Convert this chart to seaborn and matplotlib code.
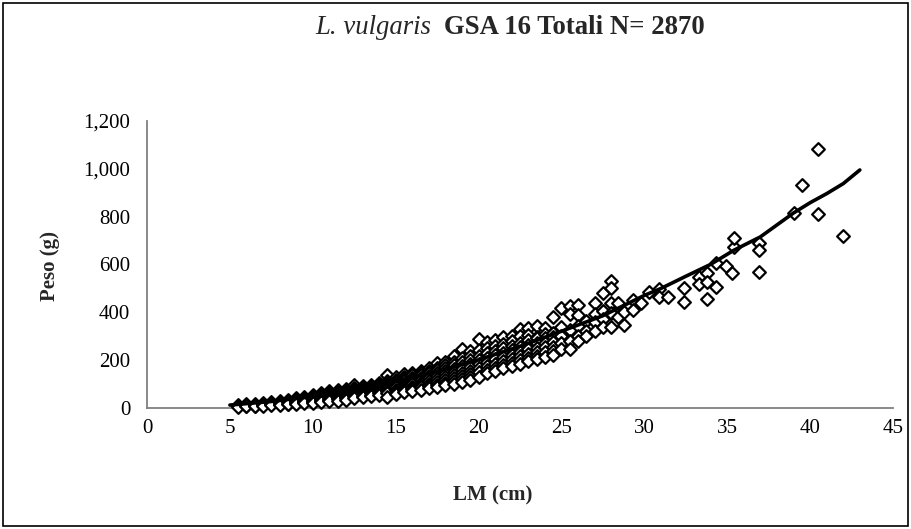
import matplotlib
matplotlib.use("Agg")
import matplotlib.pyplot as plt
import seaborn as sns
import pandas as pd
from matplotlib.patches import Rectangle
from matplotlib.ticker import FuncFormatter

# ---------------- data ----------------
title_italic = "L. vulgaris"
title_bold = "GSA 16 Totali N= 2870"
x_label = "LM (cm)"
y_label = "Peso (g)"
x_ticks = [0, 5, 10, 15, 20, 25, 30, 35, 40, 45]
y_ticks = [0, 200, 400, 600, 800, 1000, 1200]

# observed points: length class (cm) -> weights (g)
obs_lm = [5.5, 6.0, 6.5, 7.0, 7.5, 8.0, 8.5, 9.0, 9.5, 10.0, 10.5, 11.0, 11.5,
          12.0, 12.5, 13.0, 13.5, 14.0, 14.5, 15.0, 15.5, 16.0, 16.5, 17.0,
          17.5, 18.0, 18.5, 19.0, 19.5, 20.0, 20.5, 21.0, 21.5, 22.0, 22.5,
          23.0, 23.5, 24.0, 24.5, 25.0, 25.5, 26.0, 26.5, 27.0, 27.5, 28.0]
obs_weights = [
    [10, 7, 5], [14, 11, 8, 6], [14, 12, 9, 7], [18, 15, 11, 9],
    [22, 19, 14, 11], [28, 24, 19, 15, 12], [32, 27, 22, 17, 14],
    [39, 34, 29, 24, 20, 17], [46, 40, 35, 30, 26, 22, 19],
    [52, 46, 41, 36, 31, 27, 23, 20], [62, 55, 49, 43, 38, 33, 28, 24],
    [68, 61, 55, 49, 43, 37, 32, 27], [74, 67, 60, 54, 48, 42, 36, 30],
    [78, 72, 66, 60, 53, 46, 40, 34], [95, 84, 76, 68, 61, 54, 47, 40],
    [92, 86, 79, 72, 65, 58, 51, 44], [97, 92, 85, 78, 70, 62, 55, 48],
    [103, 98, 91, 84, 76, 68, 60, 52],
    [135, 112, 104, 96, 88, 80, 71, 62, 46],
    [127, 118, 110, 102, 94, 85, 76, 67, 58],
    [142, 127, 119, 110, 101, 92, 82, 72, 64],
    [145, 135, 126, 117, 108, 98, 88, 78, 70],
    [155, 145, 135, 125, 115, 105, 95, 85, 76],
    [165, 154, 144, 134, 123, 112, 101, 91, 82],
    [186, 168, 156, 144, 132, 120, 108, 97, 88],
    [192, 178, 165, 153, 141, 128, 116, 104, 94],
    [215, 192, 178, 164, 150, 137, 124, 111, 100],
    [244, 206, 190, 175, 160, 146, 132, 119, 108],
    [237, 215, 199, 184, 169, 154, 140, 127, 116],
    [286, 240, 215, 198, 182, 166, 150, 130],
    [276, 250, 228, 210, 192, 175, 158, 145],
    [283, 258, 238, 220, 202, 185, 168, 155],
    [294, 268, 248, 230, 212, 195, 178, 165],
    [300, 278, 258, 240, 222, 205, 188, 175],
    [328, 300, 272, 252, 234, 216, 198, 185],
    [335, 305, 282, 262, 244, 226, 208, 195],
    [342, 297, 290, 270, 250, 232, 215, 205],
    [332, 310, 290, 270, 255, 235, 213],
    [378, 314, 295, 275, 255, 236, 220],
    [416, 336, 300, 270, 244], [425, 392, 325, 280, 244],
    [429, 387, 340, 301, 280], [362, 322, 300], [439, 392, 360, 322],
    [478, 405, 370, 336], [531, 503, 439, 395, 339]]

# sparse large individuals
big_lm = [28.4, 28.4, 28.8, 28.8, 29.3, 29.3, 29.8, 30.3, 30.9, 30.9, 31.4,
          32.4, 32.4, 33.3, 33.3, 33.8, 33.8, 33.8, 34.3, 34.3, 34.9, 35.3,
          35.4, 35.4, 36.9, 36.9, 36.9, 39.0, 39.5, 40.5, 40.5, 42.0]
big_peso = [439, 378, 401, 346, 450, 408, 439, 483, 498, 463, 464,
            499, 441, 548, 516, 562, 525, 457, 506, 606, 592, 562,
            671, 711, 690, 659, 569, 815, 932, 1082, 812, 719]

# fitted length-weight curve
fit_lm = [5, 7.5, 10, 12.5, 15, 17.5, 20, 22.5, 25, 27.5, 30, 31, 32.5,
          34, 35.4, 37, 39, 40, 41, 42, 43]
fit_peso = [11, 26, 47, 75, 110, 152, 200, 257, 320, 385, 470, 499, 550,
            600, 659, 715, 815, 858, 896, 938, 995]

# ---------------- build table ----------------
rows_x, rows_y = [], []
for L, ws in zip(obs_lm, obs_weights):
    for w in ws:
        rows_x.append(L)
        rows_y.append(w)
rows_x += big_lm
rows_y += big_peso
df = pd.DataFrame({"LM": rows_x, "Peso": rows_y})
fit_df = pd.DataFrame({"LM": fit_lm, "Peso": fit_peso})

# ---------------- figure ----------------
sns.set_theme(style="white")
plt.rcParams["font.family"] = ["Liberation Serif", "DejaVu Serif"]

W, H = 912, 529
fig = plt.figure(figsize=(W / 100, H / 100), dpi=100)
fig.patch.set_facecolor("white")

left, right, bottom_px, top_px = 147, 893, 407.7, 121
ax = fig.add_axes([left / W, 1 - bottom_px / H, (right - left) / W,
                   (bottom_px - top_px) / H])
ax.set_facecolor("white")

sns.scatterplot(data=df, x="LM", y="Peso", ax=ax, marker="D", s=42,
                color="white", edgecolor="black", linewidth=1.6,
                legend=False, zorder=3, clip_on=False)
sns.lineplot(data=fit_df, x="LM", y="Peso", ax=ax, color="black",
             linewidth=2.6, sort=True, estimator=None, zorder=4,
             legend=False)

ax.set_xlim(0, 45)
ax.set_ylim(0, 1200)
ax.set_xticks(x_ticks)
ax.set_yticks(y_ticks)
ax.yaxis.set_major_formatter(FuncFormatter(lambda v, p: f"{v:,.0f}"))
ax.set_xlabel("")
ax.set_ylabel("")
for s in ["top", "right"]:
    ax.spines[s].set_visible(False)
for s in ["left", "bottom"]:
    ax.spines[s].set_color("#808080")
    ax.spines[s].set_linewidth(1.3)
ax.tick_params(axis="both", direction="out", colors="#808080",
               labelcolor="black", labelsize=15, width=1.0)
ax.tick_params(axis="y", length=6, pad=6)
ax.tick_params(axis="x", length=5, pad=3)
ax.grid(False)

# axis titles
fig.text(493 / W, 1 - 495 / H, x_label, ha="center", va="center",
         fontsize=15, fontweight="bold")
fig.text(50 / W, 1 - 266 / H, y_label, ha="center", va="center",
         rotation=90, fontsize=15, fontweight="bold")

# mixed-style title, centred
ty = 1 - 27 / H
t1 = fig.text(0, ty, title_italic + "  ", ha="left", va="center",
              fontsize=19.3, fontstyle="italic")
t2 = fig.text(0, ty, title_bold, ha="left", va="center",
              fontsize=19.3, fontweight="bold")
fig.canvas.draw()
r = fig.canvas.get_renderer()
w1 = t1.get_window_extent(r).width / W
w2 = t2.get_window_extent(r).width / W
cx = 510 / W
x0 = cx - (w1 + w2) / 2
t1.set_x(x0)
t2.set_x(x0 + w1)

# chart border
fig.add_artist(Rectangle((3 / W, 3 / H), (W - 7) / W, (H - 6) / H,
                         transform=fig.transFigure, fill=False,
                         edgecolor="black", linewidth=1.2))

fig.savefig("out.png", dpi=100)
